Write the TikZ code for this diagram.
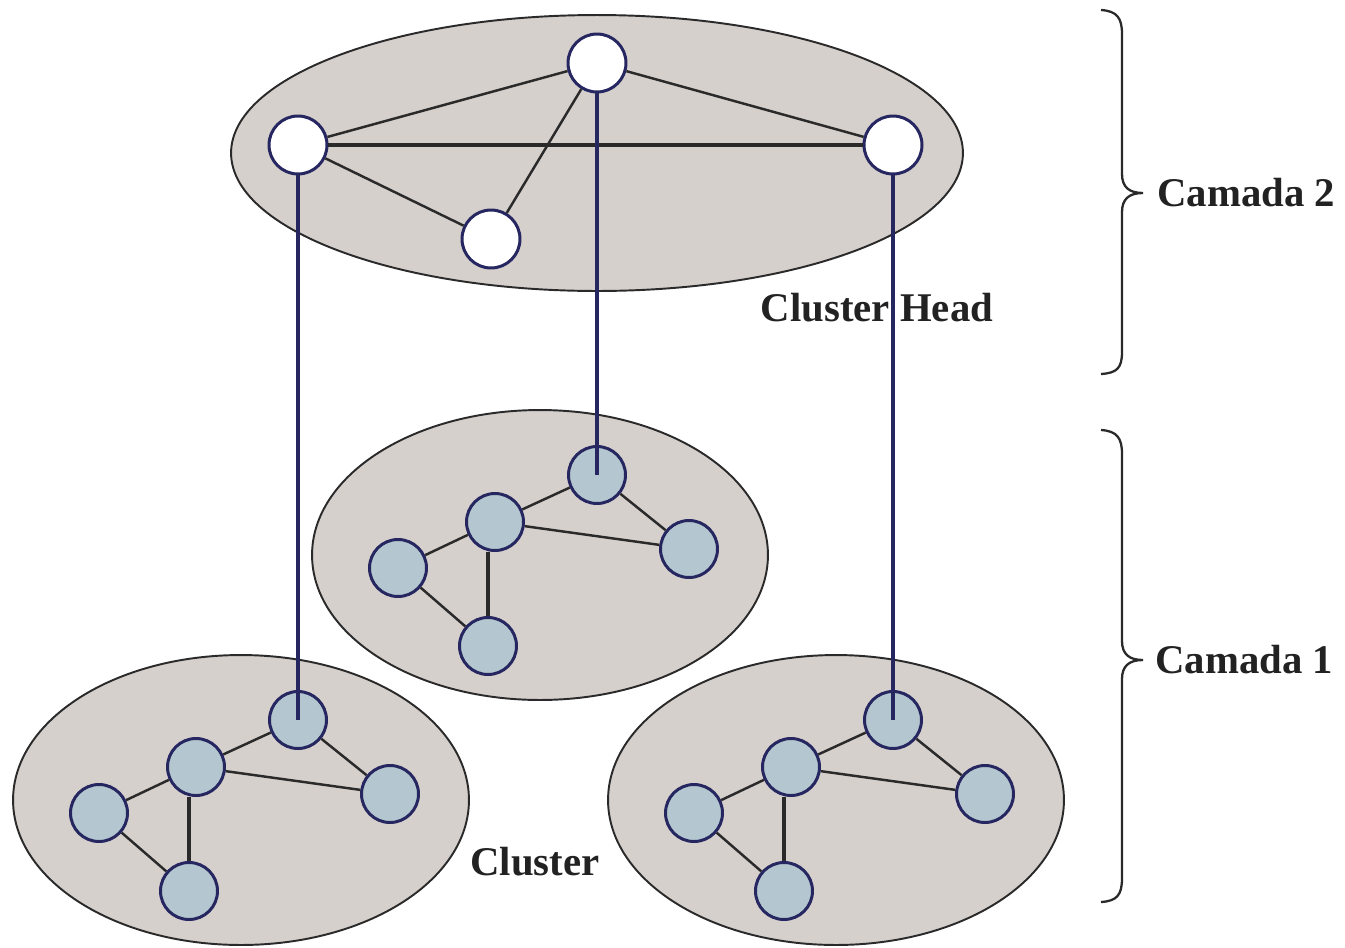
\documentclass[tikz,border=0pt]{standalone}
\usepackage{fontspec}
\setmainfont{Liberation Serif}
\usetikzlibrary{shapes.geometric}
\definecolor{clusterfill}{RGB}{214,208,205}
\definecolor{memberfill}{RGB}{180,199,208}
\definecolor{navyline}{RGB}{38,38,96}
\definecolor{edgegray}{RGB}{42,42,42}
\definecolor{labeltext}{RGB}{34,34,34}

% one lower-level cluster: ellipse plus five member nodes and their links
\newcommand\membercluster[3]{%
  \begin{scope}[shift={(#2,#3)}]
    \node[region, minimum width=9.12cm, minimum height=5.8cm] (#1) at (0,0) {};
    \node[member] (#1top)   at (57,-80) {};
    \node[member] (#1mid)   at (-45,-33) {};
    \node[member] (#1left)  at (-142,13) {};
    \node[member] (#1right) at (149,-6) {};
    \node[member] (#1low)   at (-52,91) {};
    \draw[link] (#1top) -- (#1mid);
    \draw[link] (#1top) -- (#1right);
    \draw[link] (#1mid) -- (#1left);
    \draw[link] (#1mid) -- (#1right);
    \draw[link, line width=2pt] (#1low.north) -- (#1low.north |- #1mid.south);
    \draw[link] (#1left) -- (#1low);
  \end{scope}}

\begin{document}
\begin{tikzpicture}[x=0.02cm, y=-0.02cm,
  region/.style={ellipse, draw=edgegray, line width=1.1pt, fill=clusterfill, inner sep=0pt},
  member/.style={circle, draw=navyline, line width=1.7pt, fill=memberfill, minimum size=1.14cm, inner sep=0pt},
  head/.style={circle, draw=navyline, line width=1.7pt, fill=white, minimum size=1.16cm, inner sep=0pt},
  link/.style={draw=edgegray, line width=1.4pt},
  uplink/.style={draw=navyline, line width=2.7pt},
  bracepen/.style={draw=edgegray, line width=1.3pt},
  layertext/.style={text=labeltext, font=\fontsize{23.2}{28}\selectfont\bfseries, inner sep=0pt}]
  \useasboundingbox (0,0) rectangle (1345,947);

  % upper layer: cluster heads
  \node[region, minimum width=14.64cm, minimum height=5.52cm] (top) at (597,153) {};
  \node[head] (hA) at (298,145) {};
  \node[head] (hB) at (597,63) {};
  \node[head] (hC) at (893,145) {};
  \node[head] (hD) at (491,239) {};
  \draw[link] (hA) -- (hB);
  \draw[link, line width=2.2pt] (hA) -- (hC);
  \draw[link] (hA) -- (hD);
  \draw[link] (hB) -- (hD);
  \draw[link] (hB) -- (hC);

  % lower layer: three clusters
  \membercluster{cm}{540}{555}
  \membercluster{cl}{241}{800}
  \membercluster{cr}{836}{800}

  % links from each head down to its cluster
  \draw[uplink] (hA) -- (cltop.center);
  \draw[uplink] (hB) -- (cmtop.center);
  \draw[uplink] (hC) -- (crtop.center);

  % labels
  \node[layertext] (lhead) at (877,308) {Cluster Head};
  \node[layertext] (lcluster) at (535,862) {Cluster};
  \node[layertext, anchor=west] (lcam2) at (1157,193) {Camada 2};
  \node[layertext, anchor=west] (lcam1) at (1155,660) {Camada 1};

  % braces grouping the layers
  \draw[bracepen] (1101,10) .. controls (1117,11) and (1122,18) .. (1122,34)
    -- (1122,174) .. controls (1122,187) and (1129,193) .. (1143,193)
    .. controls (1129,193) and (1122,199) .. (1122,212)
    -- (1122,352) .. controls (1122,368) and (1117,373) .. (1101,374);
  \draw[bracepen] (1101,430) .. controls (1117,431) and (1122,438) .. (1122,454)
    -- (1122,641) .. controls (1122,654) and (1129,660) .. (1143,660)
    .. controls (1129,660) and (1122,666) .. (1122,679)
    -- (1122,878) .. controls (1122,895) and (1117,901) .. (1101,902);
\end{tikzpicture}
\end{document}
